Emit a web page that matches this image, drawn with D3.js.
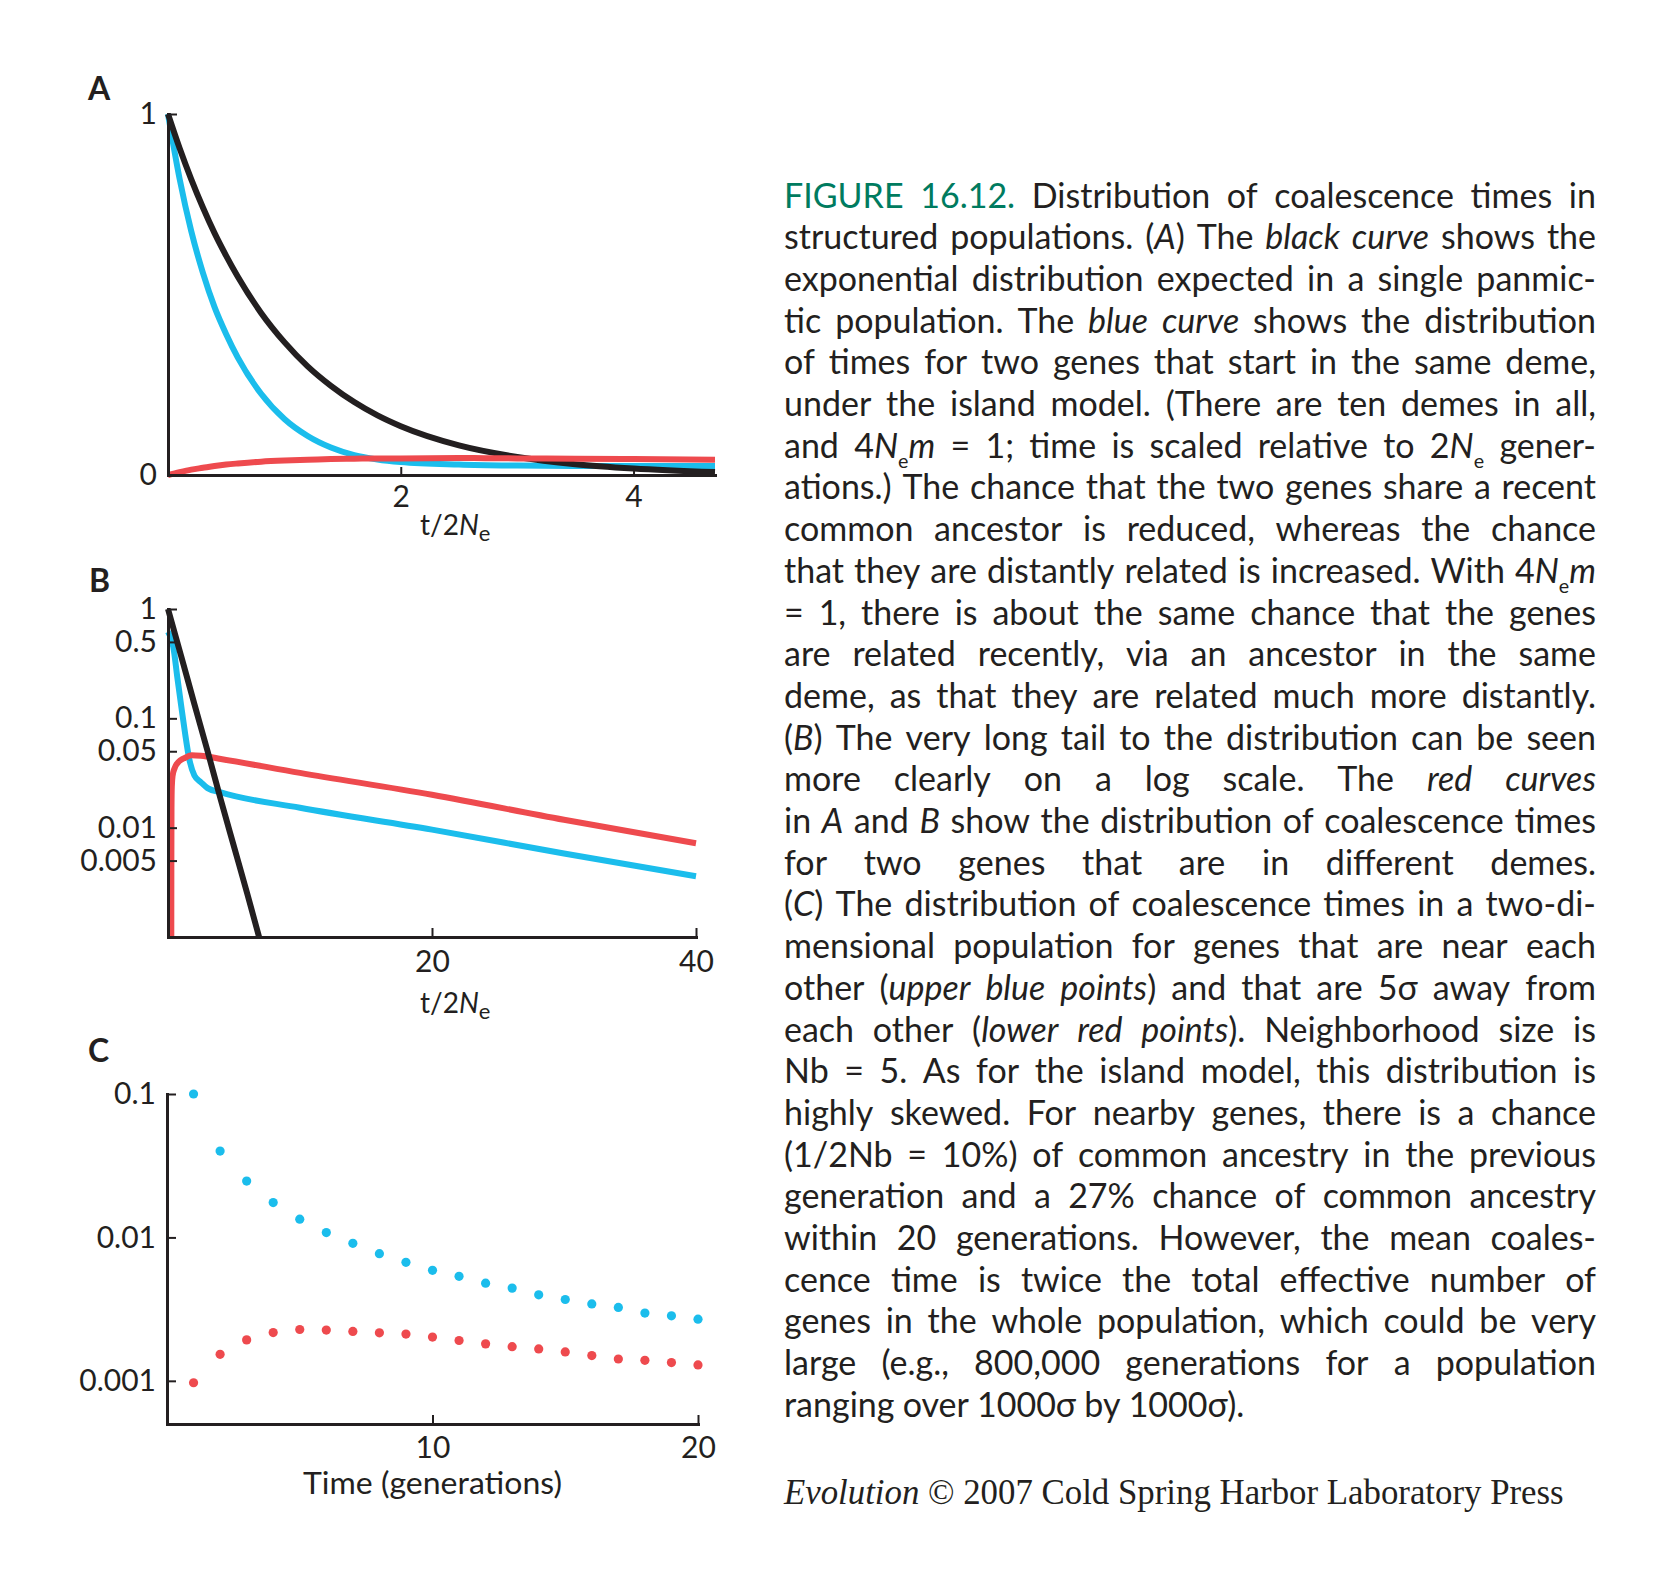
<!DOCTYPE html>
<html>
<head>
<meta charset="utf-8">
<script src="https://cdn.jsdelivr.net/npm/d3@7"></script>
<style>
  body { margin: 0; background: #fff; }
</style>
</head>
<body>
<main></main>
<script>
// ---- data ----
// panel A (linear y), t in units of 2Ne
const timeA  = [0, 0.1, 0.2, 0.3, 0.4, 0.5, 0.6, 0.8, 1.0, 1.2, 1.4, 1.6, 1.8, 2.0, 2.5, 3.0, 3.5, 4.0, 4.7]
const blackA = [1, 0.905, 0.819, 0.741, 0.670, 0.607, 0.549, 0.449, 0.368, 0.301, 0.247, 0.202, 0.165, 0.135, 0.082, 0.050, 0.030, 0.018, 0.008]
const blueA  = [1, 0.82, 0.675, 0.56, 0.465, 0.39, 0.325, 0.225, 0.155, 0.108, 0.076, 0.055, 0.043, 0.036, 0.029, 0.026, 0.025, 0.025, 0.025]
const redA   = [0, 0.008, 0.015, 0.020, 0.025, 0.029, 0.032, 0.037, 0.040, 0.042, 0.044, 0.045, 0.046, 0.046, 0.047, 0.046, 0.045, 0.044, 0.042]
const ticksAx = [2, 4]
const ticksAy = [0, 1]

// panel B (log y)
const timeBblack = [0, 1, 2, 3, 4, 5, 6, 6.9]
const blackB     = [1, 0.37, 0.135, 0.05, 0.018, 0.0067, 0.0025, 0.001]
const timeBblue  = [0, 0.2, 0.4, 0.7, 1.0, 1.3, 1.6, 2.0, 2.5, 3.0, 4.0, 10, 20, 30, 40]
const blueB      = [0.62, 0.55, 0.45, 0.24, 0.13, 0.072, 0.043, 0.030, 0.026, 0.023, 0.021, 0.0152, 0.0096, 0.0058, 0.0036]
const timeBred   = [0.25, 0.255, 0.265, 0.29, 0.35, 0.5, 0.8, 1.2, 1.8, 2.5, 4, 10, 20, 30, 40]
const redB       = [0.001, 0.005, 0.015, 0.024, 0.030, 0.035, 0.040, 0.043, 0.046, 0.0455, 0.0425, 0.0317, 0.020, 0.0118, 0.0072]
const ticksBx = [20, 40]
const ticksBy = [1, 0.5, 0.1, 0.05, 0.01, 0.005]

// panel C (log y), generations 1..20
const generations = [1, 2, 3, 4, 5, 6, 7, 8, 9, 10, 11, 12, 13, 14, 15, 16, 17, 18, 19, 20]
const nearC = [0.1, 0.040, 0.0247, 0.0175, 0.0134, 0.0108, 0.0091, 0.0077, 0.0067, 0.0059, 0.00535, 0.0048, 0.00443, 0.00398, 0.00369, 0.00344, 0.00325, 0.00297, 0.00284, 0.00269]
const farC  = [0.00097, 0.00153, 0.00193, 0.00217, 0.00228, 0.00226, 0.00221, 0.00216, 0.00212, 0.00202, 0.00191, 0.00181, 0.00173, 0.00167, 0.00159, 0.0015, 0.00142, 0.00139, 0.00134, 0.00129]
const ticksCx = [10, 20]
const ticksCy = [0.1, 0.01, 0.001]

// caption, one entry per printed line. *..* italic, #..# green, _x subscript
const captionLines = [
  "#FIGURE 16.12.# Distribution of coalescence times in",
  "structured populations. (*A*) The *black curve* shows the",
  "exponential distribution expected in a single panmic-",
  "tic population. The *blue curve* shows the distribution",
  "of times for two genes that start in the same deme,",
  "under the island model. (There are ten demes in all,",
  "and 4*N*_e*m* = 1; time is scaled relative to 2*N*_e gener-",
  "ations.) The chance that the two genes share a recent",
  "common ancestor is reduced, whereas the chance",
  "that they are distantly related is increased. With 4*N*_e*m*",
  "= 1, there is about the same chance that the genes",
  "are related recently, via an ancestor in the same",
  "deme, as that they are related much more distantly.",
  "(*B*) The very long tail to the distribution can be seen",
  "more clearly on a log scale. The *red curves*",
  "in *A* and *B* show the distribution of coalescence times",
  "for two genes that are in different demes.",
  "(*C*) The distribution of coalescence times in a two-di-",
  "mensional population for genes that are near each",
  "other (*upper blue points*) and that are 5σ away from",
  "each other (*lower red points*). Neighborhood size is",
  "Nb = 5. As for the island model, this distribution is",
  "highly skewed. For nearby genes, there is a chance",
  "(1/2Nb = 10%) of common ancestry in the previous",
  "generation and a 27% chance of common ancestry",
  "within 20 generations. However, the mean coales-",
  "cence time is twice the total effective number of",
  "genes in the whole population, which could be very",
  "large (e.g., 800,000 generations for a population",
  "ranging over 1000σ by 1000σ)."
]

// ---- setup ----
const svgWidth = 1665
const svgHeight = 1584
const ink = "#231f20"
const red = "#ee4a4e"
const blue = "#1bbdec"
const green = "#007b5f"
const font = "Lato, 'Open Sans', sans-serif"

let svg = d3.select("main")
  .append("svg")
  .attr("width", svgWidth)
  .attr("height", svgHeight)
  .style("background-color", "white")

function styleAxis(g, fs) {
  g.attr("font-family", font).attr("font-size", fs)
  g.select(".domain").attr("stroke", ink).attr("stroke-width", 3).attr("stroke-linecap", "square")
  g.selectAll(".tick line").attr("stroke", ink).attr("stroke-width", 2)
  g.selectAll(".tick text").attr("fill", ink)
}

function curve(xs, ys, x, y, color) {
  let pts = xs.map((t, i) => [t, ys[i]])
  let line = d3.line()
    .x(d => x(d[0]))
    .y(d => y(d[1]))
    .curve(d3.curveMonotoneX)
  svg.append("path")
    .datum(pts)
    .attr("d", line)
    .attr("fill", "none")
    .attr("stroke", color)
    .attr("stroke-width", 6)
}

// t/2Ne style title with italic N and subscript e
function tTitle(x, y) {
  let t = svg.append("text")
    .attr("x", x).attr("y", y)
    .attr("font-family", font).attr("font-size", 28).attr("fill", ink)
  t.append("tspan").text("t/2")
  t.append("tspan").attr("font-style", "italic").text("N")
  t.append("tspan").attr("font-size", 22).attr("dy", 6).text("e")
}

function panelLetter(s, x, y) {
  svg.append("text")
    .attr("x", x).attr("y", y)
    .attr("font-family", font).attr("font-size", 32).attr("font-weight", "bold")
    .attr("fill", ink)
    .text(s)
}

// ---- panel A ----
let xA = d3.scaleLinear().domain([0, 4.7]).range([168, 715])
let yA = d3.scaleLinear().domain([0, 1]).range([475, 114])

curve(timeA, blueA, xA, yA, blue)
curve(timeA, blackA, xA, yA, ink)
curve(timeA, redA, xA, yA, red)

let axAx = svg.append("g")
  .attr("transform", "translate(0,475)")
  .call(d3.axisBottom(xA).tickValues(ticksAx).tickSize(-8).tickSizeOuter(0).tickPadding(11).tickFormat(d => String(d)))
styleAxis(axAx, 30)

let axAy = svg.append("g")
  .attr("transform", "translate(168,0)")
  .call(d3.axisLeft(yA).tickValues(ticksAy).tickSize(-9).tickSizeOuter(0).tickPadding(11).tickFormat(d => String(d)))
styleAxis(axAy, 30)

panelLetter("A", 88, 100)
tTitle(420, 535)

// ---- panel B ----
let xB = d3.scaleLinear().domain([0, 40]).range([168, 696])
let yB = d3.scaleLog().domain([0.001, 1]).range([937, 609])

curve(timeBblue, blueB, xB, yB, blue)
curve(timeBred, redB, xB, yB, red)
curve(timeBblack, blackB, xB, yB, ink)

let axBx = svg.append("g")
  .attr("transform", "translate(0,937)")
  .call(d3.axisBottom(xB).tickValues(ticksBx).tickSize(-9).tickSizeOuter(0).tickPadding(14).tickFormat(d => String(d)))
styleAxis(axBx, 30)

let axBy = svg.append("g")
  .attr("transform", "translate(168,0)")
  .call(d3.axisLeft(yB).tickValues(ticksBy).tickSize(-9).tickSizeOuter(0).tickPadding(11).tickFormat(d => String(d)))
styleAxis(axBy, 30)

panelLetter("B", 89, 592)
tTitle(420, 1013)

// ---- panel C ----
let xC = d3.scaleLinear().domain([0, 20]).range([167, 698])
let yC = d3.scaleLog().domain([0.0005, 0.1]).range([1424, 1094])

svg.append("g")
  .selectAll("circle")
  .data(generations)
  .enter()
  .append("circle")
  .attr("cx", d => xC(d))
  .attr("cy", (d, i) => yC(nearC[i]))
  .attr("r", 4.6)
  .attr("fill", blue)

svg.append("g")
  .selectAll("circle")
  .data(generations)
  .enter()
  .append("circle")
  .attr("cx", d => xC(d))
  .attr("cy", (d, i) => yC(farC[i]))
  .attr("r", 4.6)
  .attr("fill", red)

let axCx = svg.append("g")
  .attr("transform", "translate(0,1424)")
  .call(d3.axisBottom(xC).tickValues(ticksCx).tickSize(-9).tickSizeOuter(0).tickPadding(13).tickFormat(d => String(d)))
styleAxis(axCx, 30)

let axCy = svg.append("g")
  .attr("transform", "translate(167,0)")
  .call(d3.axisLeft(yC).tickValues(ticksCy).tickSize(-9).tickSizeOuter(0).tickPadding(11).tickFormat(d => String(d)))
styleAxis(axCy, 30)

panelLetter("C", 88, 1062)

svg.append("text")
  .attr("x", 303).attr("y", 1494)
  .attr("font-family", font).attr("font-size", 30).attr("fill", ink)
  .attr("textLength", 259).attr("lengthAdjust", "spacingAndGlyphs")
  .text("Time (generations)")

// ---- caption, justified line by line ----
const capLeft = 784
const capWidth = 812
const capTop = 207.5
const capStep = 41.7
const capSize = 34

function parseWord(word, state) {
  let runs = []
  let cur = { t: "", it: state.it, g: state.g, sub: false }
  for (let i = 0; i < word.length; i++) {
    let ch = word[i]
    if (ch === "*" || ch === "#") {
      if (cur.t) runs.push(cur)
      if (ch === "*") state.it = !state.it
      else state.g = !state.g
      cur = { t: "", it: state.it, g: state.g, sub: false }
    } else if (ch === "_") {
      if (cur.t) runs.push(cur)
      runs.push({ t: word[i + 1], it: state.it, g: state.g, sub: true })
      i++
      cur = { t: "", it: state.it, g: state.g, sub: false }
    } else {
      cur.t += ch
    }
  }
  if (cur.t) runs.push(cur)
  return runs
}

let capLines = captionLines.map((line, li) => {
  let state = { it: false, g: false }
  let g = svg.append("g")
  let words = line.split(" ").map(w => {
    let runs = parseWord(w, state)
    let t = g.append("text")
      .attr("font-family", font).attr("font-size", capSize).attr("fill", ink)
    let wasSub = false
    runs.forEach(r => {
      let ts = t.append("tspan").text(r.t)
      if (r.it) ts.attr("font-style", "italic")
      if (r.g) ts.attr("fill", green)
      if (r.sub) {
        ts.attr("font-size", capSize * 0.58).attr("dy", 10)
        wasSub = true
      } else if (wasSub) {
        ts.attr("dy", -10)
        wasSub = false
      }
    })
    return { node: t, w: t.node().getComputedTextLength() }
  })
  return { g, words }
})

// squeeze horizontally so the tightest line still fits (caption face is narrow)
const minGap = capSize * 0.2
let widest = d3.max(capLines.slice(0, -1), l => d3.sum(l.words, w => w.w) + minGap * (l.words.length - 1))
let sx = Math.min(1, capWidth / widest)
let local = capWidth / sx

capLines.forEach((l, li) => {
  l.g.attr("transform", `translate(${capLeft},${capTop + li * capStep}) scale(${sx},1)`)
  let total = d3.sum(l.words, w => w.w)
  let last = li === capLines.length - 1
  let gap = last ? capSize * 0.24 : (local - total) / (l.words.length - 1)
  let x = 0
  l.words.forEach(w => {
    w.node.attr("x", x).attr("y", 0)
    x += w.w + gap
  })
})

// credit line
let credit = svg.append("text")
  .attr("x", capLeft).attr("y", 1504)
  .attr("font-family", "'Liberation Serif', 'DejaVu Serif', serif")
  .attr("font-size", 32).attr("fill", ink)
credit.append("tspan").attr("font-style", "italic").text("Evolution")
credit.append("tspan").text(" © 2007 Cold Spring Harbor Laboratory Press")
let cw = credit.node().getComputedTextLength()
credit.attr("font-size", 32 * 780 / cw)
</script>
</body>
</html>
